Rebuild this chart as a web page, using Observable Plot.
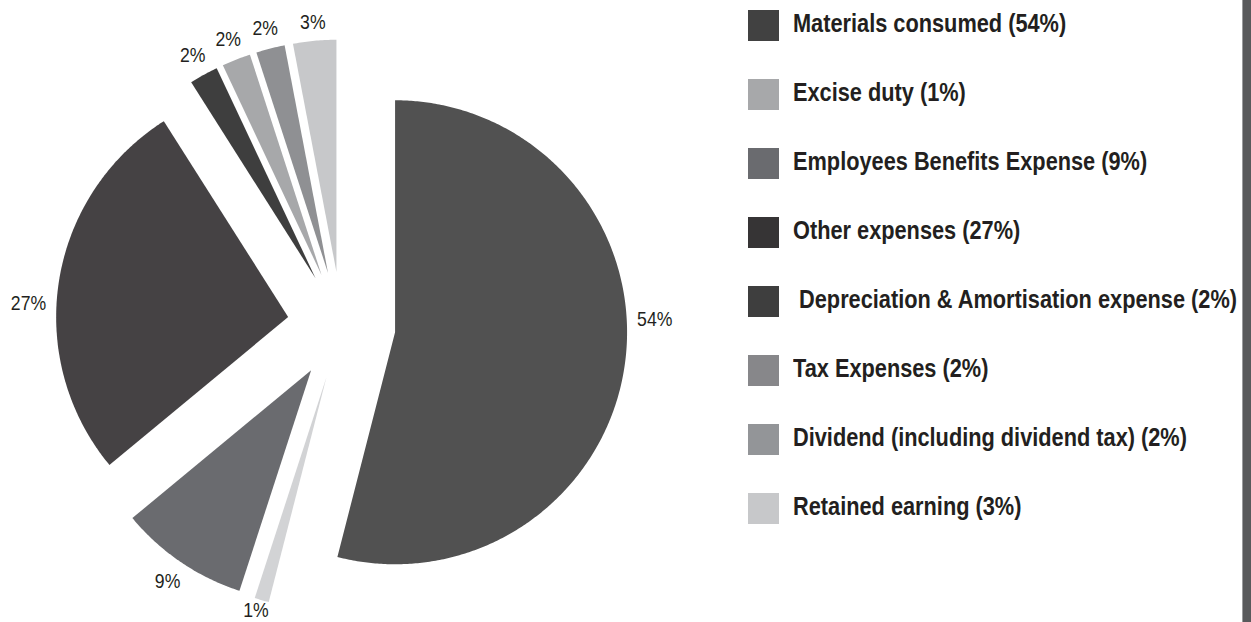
<!DOCTYPE html>
<html>
<head>
<meta charset="utf-8">
<script src="https://cdn.jsdelivr.net/npm/d3@7"></script>
<script src="https://cdn.jsdelivr.net/npm/@observablehq/plot@0.6"></script>
<style>
  html, body { margin: 0; padding: 0; background: #fff; }
  #wrap { position: relative; width: 1251px; height: 622px; overflow: hidden; background: #fff; }
  #chart { position: absolute; left: 0; top: 0; }
  #legend { position: absolute; left: 748px; top: 10px; white-space: nowrap; }
  .row { display: flex; align-items: center; height: 31px; margin-bottom: 38px; }
  .sw { width: 31px; height: 31px; flex: none; }
  .lt { display: inline-block; margin-left: 14px; font-family: "Liberation Sans", Arial, sans-serif; font-weight: bold; font-size: 25px; color: #231f20; white-space: pre; position: relative; top: -2px; transform: scaleX(0.87); transform-origin: 0 50%; }
  #bar { position: absolute; left: 1242px; top: 0; width: 9px; height: 622px; background: #58595b; border-left: 1px solid #9a9b9d; box-sizing: border-box; }
</style>
</head>
<body>
<div id="wrap">
  <div id="chart"></div>
  <div id="legend"></div>
  <div id="bar"></div>
</div>
<script>
// ---- data ----
const categories = [
  "Materials consumed",
  "Excise duty",
  "Employees Benefits Expense",
  "Other expenses",
  "Depreciation & Amortisation expense",
  "Tax Expenses",
  "Dividend (including dividend tax)",
  "Retained earning"
];
const values = [54, 1, 9, 27, 2, 2, 2, 3];
const sliceLabels = ["54%", "1%", "9%", "27%", "2%", "2%", "2%", "3%"];
const legendLabels = [
  "Materials consumed (54%)",
  "Excise duty (1%)",
  "Employees Benefits Expense (9%)",
  "Other expenses (27%)",
  " Depreciation & Amortisation expense (2%)",
  "Tax Expenses (2%)",
  "Dividend (including dividend tax) (2%)",
  "Retained earning (3%)"
];
const sliceColors = ["#515151", "#d2d3d5", "#6a6b6f", "#454244", "#3e3e3e", "#a7a8aa", "#8f9093", "#c7c8ca"];
const legendColors = ["#414141", "#a7a8aa", "#6a6b6f", "#363435", "#3e3e3e", "#87878a", "#939598", "#c7c8ca"];

// ---- layout ----
const W = 740, H = 622;
const CX = 341, CY = 325;   // pie centre in px
const R = 232;              // radius in px
const EXPLODE = 54;         // explode offset in px
const LABEL_GAP = 10;
const LABEL_TURN = [-10, 0, 0, -6, 0, 0, 0, 0]; // label angle nudge (degrees)
const EDGE_PAD = 12;        // keep labels inside the frame
const FONT = '"Liberation Sans", Arial, sans-serif';
const LABEL_SIZE = 21;
const SQUEEZE = 0.84;

const total = d3.sum(values);
const ctx = document.createElement("canvas").getContext("2d");
ctx.font = `${LABEL_SIZE}px ${FONT}`;
const yMin = -(H - CY) / R, yMax = CY / R;

const polys = [];
const labels = [];
let acc = 0;
values.forEach((v, i) => {
  const a0 = acc / total * 2 * Math.PI;
  acc += v;
  const a1 = acc / total * 2 * Math.PI;
  const mid = (a0 + a1) / 2;
  const ex = (EXPLODE / R) * Math.sin(mid), ey = (EXPLODE / R) * Math.cos(mid);
  polys.push({cat: categories[i], color: sliceColors[i], x: ex, y: ey});
  const n = Math.max(4, Math.ceil((a1 - a0) / (Math.PI / 360)));
  for (let k = 0; k <= n; k++) {
    const a = a0 + (a1 - a0) * k / n;
    polys.push({cat: categories[i], color: sliceColors[i], x: ex + Math.sin(a), y: ey + Math.cos(a)});
  }
  const la = mid + LABEL_TURN[i] * Math.PI / 180;
  const w = ctx.measureText(sliceLabels[i]).width * SQUEEZE;
  const hh = LABEL_SIZE * 0.36;
  const off = LABEL_GAP + Math.abs(Math.sin(la)) * w / 2 + Math.abs(Math.cos(la)) * hh;
  const rl = 1 + off / R;
  const ly = Math.max(yMin + EDGE_PAD / R, ey + rl * Math.cos(la));
  labels.push({text: sliceLabels[i], w, x: ex + rl * Math.sin(la), y: ly});
});

const chart = Plot.plot({
  width: W,
  height: H,
  margin: 0,
  x: {domain: [-CX / R, (W - CX) / R], range: [0, W], axis: null},
  y: {domain: [yMin, yMax], range: [H, 0], axis: null},
  style: {background: "white", overflow: "visible"},
  marks: [
    Plot.line(polys, {x: "x", y: "y", z: "cat", fill: "color", stroke: "none", curve: "linear"}),
    Plot.text(labels, {x: "x", y: "y", text: "text", fontSize: LABEL_SIZE, fontFamily: FONT, fill: "#231f20", textAnchor: "middle", lineAnchor: "middle"})
  ]
});
// condense the slice labels horizontally (the reference uses a condensed face)
const widthByText = new Map(labels.map(d => [d.text, d.w]));
chart.querySelectorAll("text").forEach(el => {
  const w = widthByText.get(el.textContent);
  if (w) {
    el.setAttribute("textLength", w.toFixed(2));
    el.setAttribute("lengthAdjust", "spacingAndGlyphs");
  }
});
document.getElementById("chart").appendChild(chart);

const legend = document.getElementById("legend");
categories.forEach((c, i) => {
  const row = document.createElement("div");
  row.className = "row";
  const sw = document.createElement("div");
  sw.className = "sw";
  sw.style.background = legendColors[i];
  const t = document.createElement("span");
  t.className = "lt";
  t.textContent = legendLabels[i];
  row.appendChild(sw);
  row.appendChild(t);
  legend.appendChild(row);
});
</script>
</body>
</html>
